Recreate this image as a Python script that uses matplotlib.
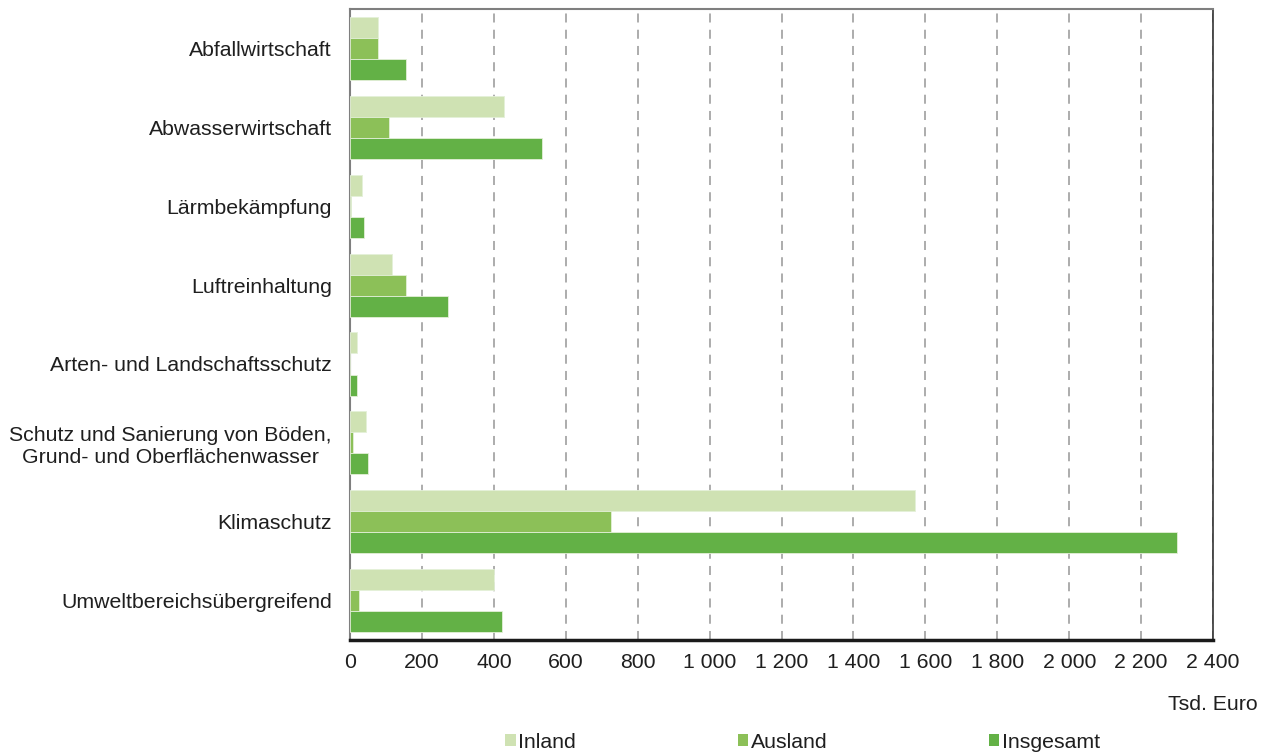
import numpy as np
import matplotlib.pyplot as plt
from matplotlib.patches import Patch

plt.rcParams["font.family"] = ["Liberation Sans", "DejaVu Sans"]
plt.rcParams["text.color"] = "#1f1f1f"
plt.rcParams["xtick.labelcolor"] = "#1f1f1f"
plt.rcParams["ytick.labelcolor"] = "#1f1f1f"

categories = [
    "Abfallwirtschaft",
    "Abwasserwirtschaft",
    "Lärmbekämpfung",
    "Luftreinhaltung",
    "Arten- und Landschaftsschutz",
    "Schutz und Sanierung von Böden,\nGrund- und Oberflächenwasser",
    "Klimaschutz",
    "Umweltbereichsübergreifend",
]
inland = [78, 428, 33, 117, 19, 43, 1570, 399]
ausland = [77, 107, 3, 156, 1, 7, 727, 25]
insgesamt = [155, 534, 38, 272, 18, 50, 2299, 423]

series_names = ["Inland", "Ausland", "Insgesamt"]
colors = ["#cfe2b3", "#8cc058", "#63b146"]
fs = 15.3

fig = plt.figure(figsize=(12.66, 7.56), dpi=100)
ax = fig.add_axes([0.2765, 0.1534, 0.6817, 0.8346])

y = np.arange(len(categories))
h = 0.267
for i, (vals, col) in enumerate(zip([inland, ausland, insgesamt], colors)):
    ax.barh(y + (i - 1) * h, vals, height=h, color=col,
            edgecolor="#e4f0d8", linewidth=0.6, zorder=3)

ax.set_xlim(0, 2400)
ax.set_ylim(len(categories) - 0.5, -0.5)
xt = np.arange(0, 2401, 200)
ax.set_xticks(xt)
ax.set_xticklabels([f"{v:,}".replace(",", " ") for v in xt], fontsize=fs)
ax.set_yticks(y)
ax.set_yticklabels(categories, fontsize=fs, multialignment="center")
ax.tick_params(axis="y", length=0, pad=13)
ax.tick_params(axis="x", length=0, pad=9)

ax.grid(axis="x", color="#a6a6a6", linestyle=(0, (5, 4)), linewidth=1.3, zorder=0)
ax.grid(axis="y", visible=False)

ax.spines["left"].set_color("#7f7f7f")
ax.spines["left"].set_linewidth(1.5)
ax.spines["top"].set_color("#7f7f7f")
ax.spines["top"].set_linewidth(1.5)
ax.spines["right"].set_color("#333333")
ax.spines["right"].set_linewidth(1.2)
ax.spines["bottom"].set_color("#1a1a1a")
ax.spines["bottom"].set_linewidth(2.5)

fig.text(0.9937, 0.0675, "Tsd. Euro", ha="right", va="center", fontsize=fs)

handles = [Patch(facecolor=c, edgecolor="none") for c in colors]
fig.legend(handles, series_names, loc="center", bbox_to_anchor=(0.634, 0.0185),
           ncol=3, frameon=False, fontsize=fs, handlelength=0.5, handleheight=0.5,
           handletextpad=0.12, columnspacing=7.6, borderpad=0)

fig.savefig("out.png", dpi=100)
